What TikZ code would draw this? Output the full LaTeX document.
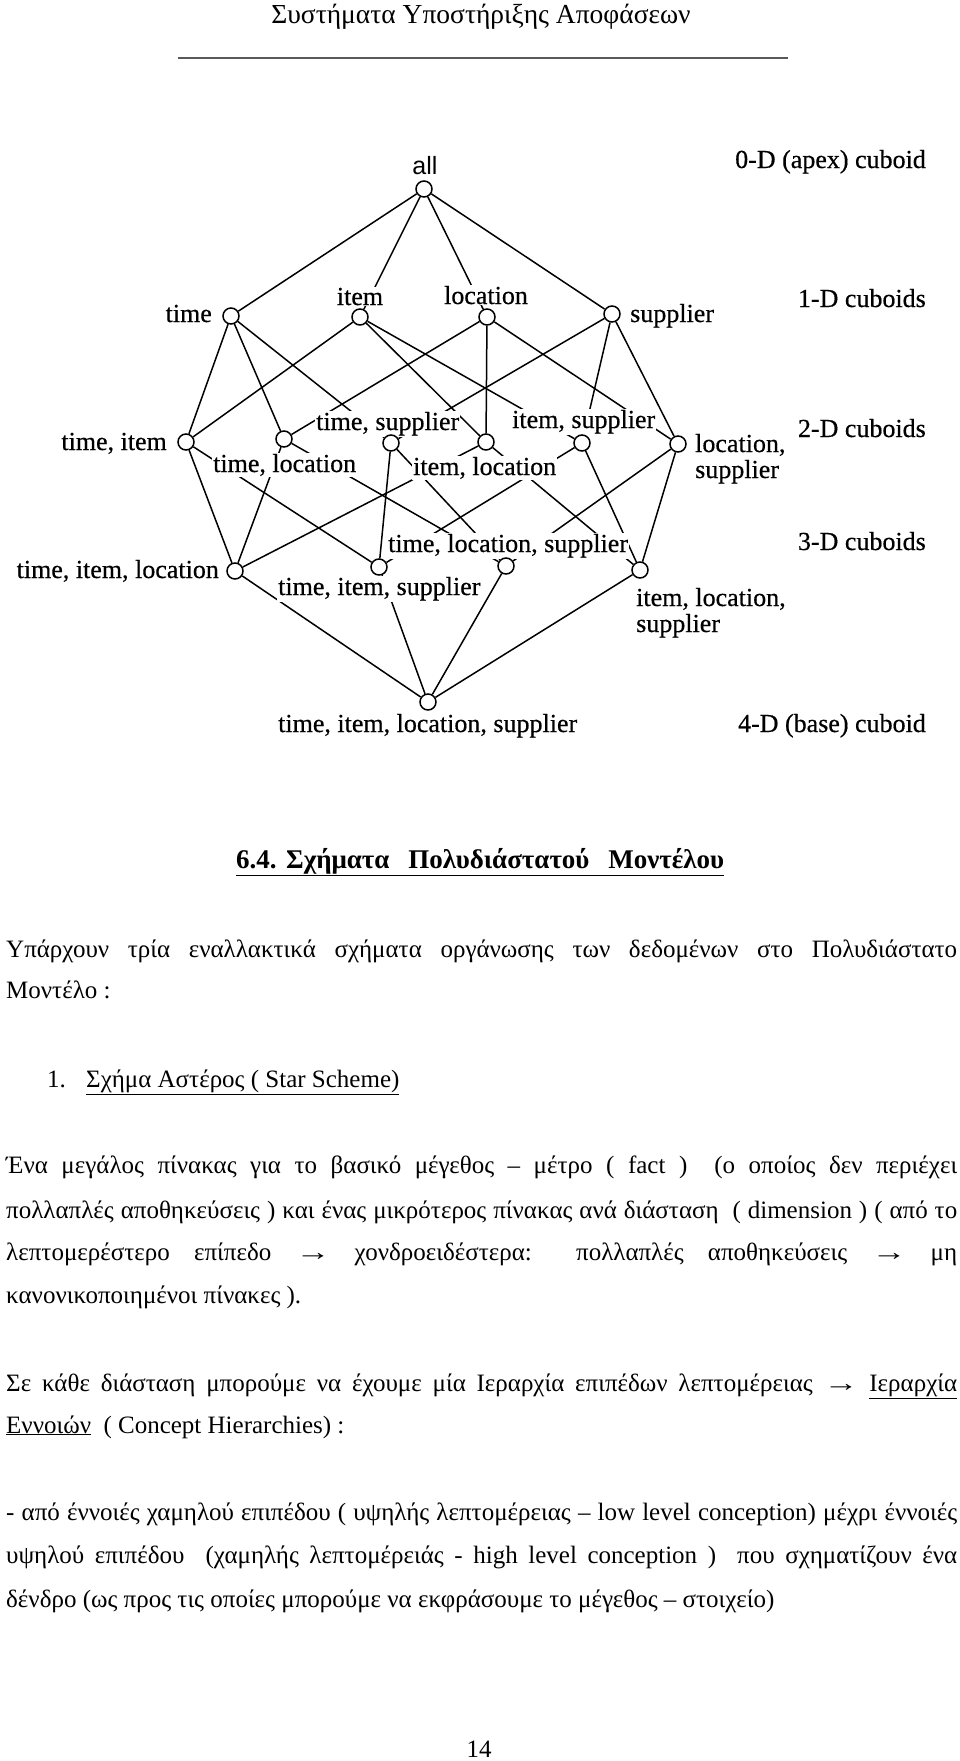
\documentclass[tikz,border=0pt]{standalone}
\usepackage{fontspec}
\usepackage{graphicx}
\setmainfont{Liberation Serif}
\setsansfont{Liberation Sans}
\newfontfamily\latfam[FakeBold=0.5]{Liberation Serif}
\usetikzlibrary{positioning,backgrounds}
\newcommand{\bodyfont}{\fontsize{25}{42}\selectfont}
\newcommand{\latfont}{\latfam\fontsize{26}{28}\selectfont}
\newcommand{\jline}[1]{\hbox to 951pt{#1}}
\newcommand{\uln}[1]{\underline{#1}}
\newcommand{\arr}{\scalebox{1.4}[1]{→}}
\tikzset{
  wire/.style={line width=1.5pt},
  cub/.style={circle, draw, fill=white, line width=1.5pt, minimum size=16pt, inner sep=0pt},
  lbl/.style={font=\latfont, fill=white, inner sep=1pt},
  dimlbl/.style={font=\latfont, anchor=base east, inner sep=0pt},
  txt/.style={font=\bodyfont, anchor=base west, inner sep=0pt}
}
\begin{document}
\begin{tikzpicture}[x=1pt,y=-1pt]
  \useasboundingbox (0,0) rectangle (960,1761);
  % page head
  \node[font=\fontsize{27.5}{30}\selectfont, anchor=base, inner sep=0pt] (head) at (481,24) {Συστήματα Υποστήριξης Αποφάσεων};
  \coordinate (rulel) at (178,58);
  \coordinate (ruler) at (788,58);
  \draw[line width=2pt, black!65] (rulel) -- (ruler);

  % labels of the lattice
  \node[font=\sffamily\fontsize{25}{28}\selectfont, anchor=base, inner sep=1pt] (lall) at (425,174) {all};
  \node[lbl, anchor=base east] (lt) at (213,322) {time};
  \node[lbl, anchor=base] (li) at (360,305) {item};
  \node[lbl, anchor=base] (ll) at (486,304) {location};
  \node[lbl, anchor=base west] (ls) at (629,322) {supplier};
  \node[lbl, anchor=base east] (lti) at (168,450) {time, item};
  \node[lbl, anchor=base west] (ltl) at (212,472) {time, location};
  \node[lbl, anchor=base west] (lts) at (315,430) {time, supplier};
  \node[lbl, anchor=base west] (lil) at (412,475) {item, location};
  \node[lbl, anchor=base west] (lis) at (511,428) {item, supplier};
  \node[lbl, anchor=base west] (lls) at (694,452) {location,};
  \node[lbl, anchor=base west] (llsb) at (694,478) {supplier};
  \node[lbl, anchor=base east] (ltil) at (220,578) {time, item, location};
  \node[lbl, anchor=base west] (ltis) at (277,595) {time, item, supplier};
  \node[lbl, anchor=base west] (ltls) at (387,552) {time, location, supplier};
  \node[lbl, anchor=base west] (lils) at (635,606) {item, location,};
  \node[lbl, anchor=base west] (lilsb) at (635,632) {supplier};
  \node[lbl, anchor=base west] (ltils) at (277,732) {time, item, location, supplier};

  % level names
  \node[dimlbl] (d0) at (926,168) {0-D (apex) cuboid};
  \node[dimlbl] (d1) at (926,307) {1-D cuboids};
  \node[dimlbl] (d2) at (926,437) {2-D cuboids};
  \node[dimlbl] (d3) at (926,550) {3-D cuboids};
  \node[dimlbl] (d4) at (926,732) {4-D (base) cuboid};

  % cuboids
  \node[cub] (all) at (424,189) {};
  \node[cub] (t) at (231,316) {};
  \node[cub] (i) at (360,317) {};
  \node[cub] (l) at (487,317) {};
  \node[cub] (s) at (612,314) {};
  \node[cub] (ti) at (186,442) {};
  \node[cub] (tl) at (284,439) {};
  \node[cub] (ts) at (391,443) {};
  \node[cub] (il) at (486,442) {};
  \node[cub] (is) at (582,443) {};
  \node[cub] (ls) at (678,444) {};
  \node[cub] (til) at (235,571) {};
  \node[cub] (tis) at (379,567) {};
  \node[cub] (tls) at (506,566) {};
  \node[cub] (ils) at (640,570) {};
  \node[cub] (tils) at (428,702) {};

  \begin{scope}[on background layer]
    \fill[white] (0,0) rectangle (960,1761);
    \draw[wire] (all) -- (t) (all) -- (i) (all) -- (l) (all) -- (s);
    \draw[wire] (t) -- (ti) (t) -- (tl) (t) -- (ts);
    \draw[wire] (i) -- (ti) (i) -- (il) (i) -- (is);
    \draw[wire] (l) -- (tl) (l) -- (il) (l) -- (ls);
    \draw[wire] (s) -- (ts) (s) -- (is) (s) -- (ls);
    \draw[wire] (ti) -- (til) (ti) -- (tis);
    \draw[wire] (tl) -- (til) (tl) -- (tls);
    \draw[wire] (ts) -- (tis) (ts) -- (tls);
    \draw[wire] (il) -- (til) (il) -- (ils);
    \draw[wire] (is) -- (tis) (is) -- (ils);
    \draw[wire] (ls) -- (tls) (ls) -- (ils);
    \draw[wire] (til) -- (tils) (tis) -- (tils) (tls) -- (tils) (ils) -- (tils);
  \end{scope}

  % text of the page
  \node[txt, font=\fontsize{27}{30}\selectfont\bfseries] (sec) at (236,868) {\uln{\hbox to 488pt{6.4.\ Σχήματα \ Πολυδιάστατού \ Μοντέλου}}};
  \node[txt] (p1a) at (6,957) {\jline{Υπάρχουν τρία εναλλακτικά σχήματα οργάνωσης των δεδομένων στο Πολυδιάστατο}};
  \node[txt] (p1b) at (6,998) {Μοντέλο :};
  \node[txt] (n1) at (47,1087) {1.};
  \node[txt] (s1) at (86,1087) {\uln{Σχήμα Αστέρος ( Star Scheme)}};
  \node[txt] (p2a) at (6,1173) {\jline{Ένα μεγάλος πίνακας για το βασικό μέγεθος – μέτρο ( fact ) \ (ο οποίος δεν περιέχει}};
  \node[txt] (p2b) at (6,1218) {\jline{πολλαπλές αποθηκεύσεις ) και ένας μικρότερος πίνακας ανά διάσταση \ ( dimension ) ( από το}};
  \node[txt] (p2c) at (6,1260) {\jline{λεπτομερέστερο επίπεδο \arr{} χονδροειδέστερα: πολλαπλές αποθηκεύσεις \arr{} μη}};
  \node[txt] (p2d) at (6,1303) {κανονικοποιημένοι πίνακες ).};
  \node[txt] (p3a) at (6,1391) {\jline{Σε κάθε διάσταση μπορούμε να έχουμε μία Ιεραρχία επιπέδων λεπτομέρειας \arr{} \uln{Ιεραρχία}}};
  \node[txt] (p3b) at (6,1433) {\uln{Εννοιών} \ ( Concept Hierarchies) :};
  \node[txt] (p4a) at (6,1520) {\jline{- από έννοιές χαμηλού επιπέδου ( υψηλής λεπτομέρειας – low level conception) μέχρι έννοιές}};
  \node[txt] (p4b) at (6,1563) {\jline{υψηλού επιπέδου \ (χαμηλής λεπτομέρειάς - high level conception ) \ που σχηματίζουν ένα}};
  \node[txt] (p4c) at (6,1607) {δένδρο (ως προς τις οποίες μπορούμε να εκφράσουμε το μέγεθος – στοιχείο)};
  \node[font=\bodyfont, anchor=base, inner sep=0pt] (pg) at (479,1757) {14};
\end{tikzpicture}
\end{document}
